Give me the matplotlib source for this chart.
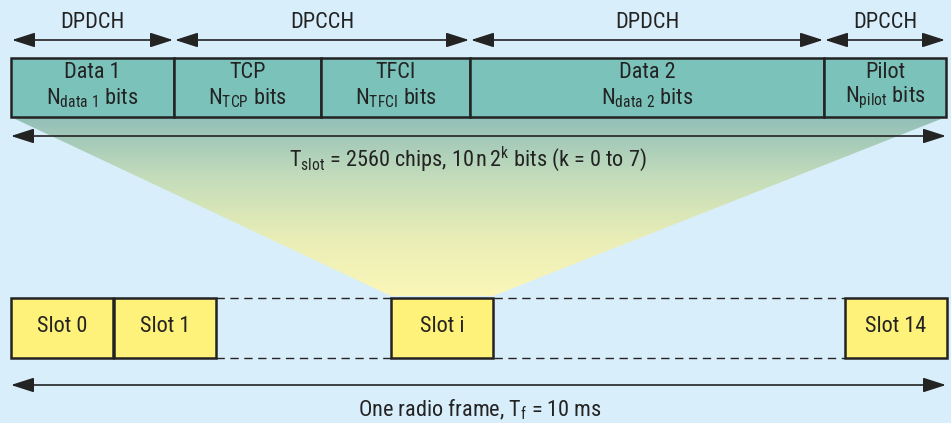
import matplotlib
matplotlib.use("Agg")
import matplotlib.pyplot as plt
import numpy as np
from matplotlib.patches import Rectangle, Polygon, FancyArrowPatch
from matplotlib.colors import LinearSegmentedColormap
from matplotlib import font_manager

# ---------------- data ----------------
channel_labels = ["DPDCH", "DPCCH", "DPDCH", "DPCCH"]
channel_edges = [11, 174, 470, 824, 946]

field_names = ["Data 1", "TCP", "TFCI", "Data 2", "Pilot"]
field_subs = ["data\\ 1", "TCP", "TFCI", "data\\ 2", "pilot"]
field_edges = [11, 174, 321, 470, 824, 946]

slot_labels = ["Slot 0", "Slot 1", "Slot i", "Slot 14"]
slot_lefts = [11, 114, 391, 845]
slot_width = 102
dash_gaps = [(216, 391), (494, 845)]

slot_text = r"$\mathrm{T_{slot}}$ = 2560 chips, 10$\,$n$\,$2$^{\mathrm{k}}$ bits (k = 0 to 7)"
frame_text = r"One radio frame, $\mathrm{T_f}$ = 10 ms"

# ---------------- style ----------------
avail = {f.name for f in font_manager.fontManager.ttflist}
fam = "Roboto Condensed" if "Roboto Condensed" in avail else "IBM Plex Sans Condensed"
WEIGHT = "normal"
plt.rcParams["font.family"] = [fam, "DejaVu Sans"]
plt.rcParams["font.weight"] = WEIGHT
plt.rcParams["mathtext.fontset"] = "custom"
plt.rcParams["mathtext.rm"] = f"{fam}:weight={WEIGHT}"
plt.rcParams["mathtext.it"] = f"{fam}:weight={WEIGHT}"
plt.rcParams["mathtext.bf"] = f"{fam}:weight=bold"

BG = "#d9eefb"
TEAL = "#7bc3ba"
YELLOW = "#fff27a"
INK = "#232323"
FS = 16

W, H = 951, 423
fig = plt.figure(figsize=(W / 100, H / 100), dpi=100)
fig.patch.set_facecolor(BG)
ax = fig.add_axes([0, 0, 1, 1])
ax.set_xlim(0, W)
ax.set_ylim(H, 0)
ax.axis("off")
ax.set_facecolor(BG)

field_top, field_bot = 58, 117
slot_top, slot_bot = 298, 358

# gradient trapezoid
si = slot_labels.index("Slot i")
sx0 = slot_lefts[si]
sx1 = sx0 + slot_width
poly = Polygon([(field_edges[0], field_bot), (field_edges[-1], field_bot),
                (sx1, slot_top - 2), (sx0, slot_top - 2)], closed=True,
               facecolor="none", edgecolor="none")
ax.add_patch(poly)
cmap = LinearSegmentedColormap.from_list("g", ["#92bfb8", "#c3dcbb", "#e8edb6", "#fbf7b8"])
grad = np.linspace(0, 1, 256).reshape(-1, 1)
im = ax.imshow(grad, cmap=cmap, extent=(field_edges[0], field_edges[-1], slot_top - 2, field_bot),
               aspect="auto", zorder=1, interpolation="bilinear")
im.set_clip_path(poly)


def arrow(x0, x1, y):
    a = FancyArrowPatch((x0, y), (x1, y), arrowstyle="<|-|>,head_length=14,head_width=4.5",
                        mutation_scale=1, color=INK, lw=1.2, shrinkA=0, shrinkB=0, zorder=3)
    ax.add_patch(a)


# channel arrows
for i, lab in enumerate(channel_labels):
    x0, x1 = channel_edges[i], channel_edges[i + 1]
    arrow(x0 + 1, x1 - 1, 40)
    ax.text((x0 + x1) / 2, 23, lab, ha="center", va="center", fontsize=FS, color=INK)

# fields
for i, (nm, sb) in enumerate(zip(field_names, field_subs)):
    x0, x1 = field_edges[i], field_edges[i + 1]
    ax.add_patch(Rectangle((x0, field_top), x1 - x0, field_bot - field_top,
                           facecolor=TEAL, edgecolor=INK, lw=1.8, zorder=2))
    cx = (x0 + x1) / 2
    ax.text(cx, 73, nm, ha="center", va="center", fontsize=FS, color=INK, zorder=4)
    ax.text(cx, 98, r"$\mathrm{N_{" + sb + r"}}$ bits", ha="center", va="center",
            fontsize=FS, color=INK, zorder=4)

# slot arrow
arrow(field_edges[0], field_edges[-1], 136)
ax.text(468, 159, slot_text, ha="center", va="center", fontsize=FS, color=INK, zorder=4)

# slots
for lab, x0 in zip(slot_labels, slot_lefts):
    ax.add_patch(Rectangle((x0, slot_top), slot_width, slot_bot - slot_top,
                           facecolor=YELLOW, edgecolor=INK, lw=1.8, zorder=2))
    ax.text(x0 + slot_width / 2, 327, lab, ha="center", va="center", fontsize=FS, color=INK, zorder=4)

for g0, g1 in dash_gaps:
    for y in (slot_top, slot_bot):
        ax.plot([g0, g1], [y, y], color=INK, lw=1.0, ls=(0, (6, 4)), zorder=2)

# frame arrow
arrow(field_edges[0], field_edges[-1], 385)
ax.text(480, 410, frame_text, ha="center", va="center", fontsize=FS, color=INK, zorder=4)

fig.savefig("out.png", dpi=100, facecolor=BG)
